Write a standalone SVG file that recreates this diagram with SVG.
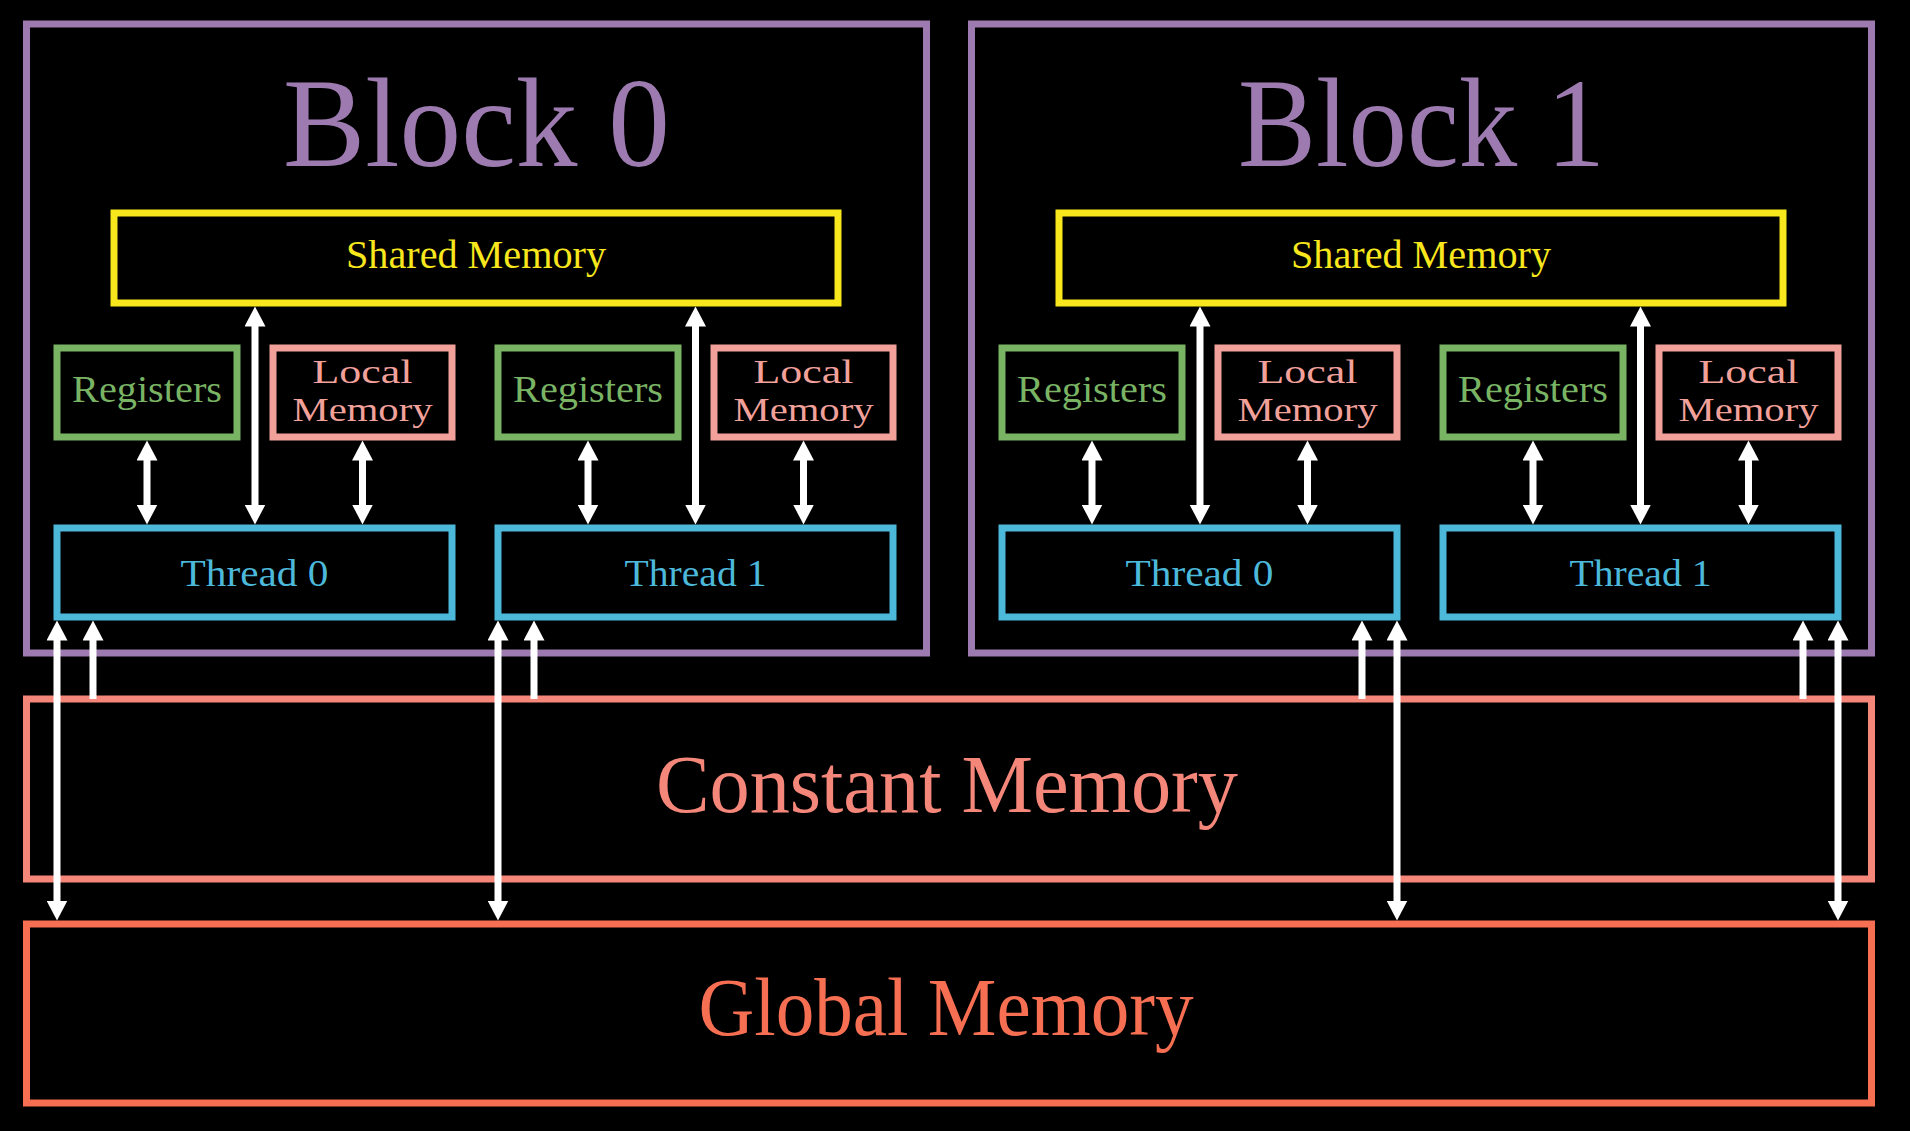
<svg xmlns="http://www.w3.org/2000/svg" width="1910" height="1131" viewBox="0 0 1910 1131">
<style>
  text { font-family: "Liberation Serif", "Times New Roman", serif; text-anchor: middle; }
  .box { fill: none; stroke-width: 7; }
  .block { stroke: #9d7bb0; }
  .shared { stroke: #f8e71c; }
  .reg { stroke: #79b465; }
  .local { stroke: #f2a19a; }
  .thread { stroke: #4cb9db; }
  .const { stroke: #f4877a; }
  .global { stroke: #f76f52; }
  .t-block { fill: #9d7bb0; font-size: 126px; }
  .t-shared { fill: #f8e71c; font-size: 40px; }
  .t-reg { fill: #79b465; font-size: 37px; }
  .t-local { fill: #f2a19a; font-size: 34px; }
  .t-thread { fill: #4cb9db; font-size: 38px; }
  .t-const { fill: #f4877a; font-size: 82px; }
  .t-global { fill: #f76f52; font-size: 82px; }
  .arrow { fill: none; stroke: #ffffff; stroke-width: 7; }
  .both { marker-start: url(#head); marker-end: url(#head); }
  .up { marker-start: url(#head); }
</style>
<defs>
  <marker id="head" markerUnits="userSpaceOnUse" markerWidth="21" markerHeight="21" refX="8" refY="10.5" orient="auto-start-reverse">
    <path d="M0,0 L20,10.5 L0,21 Z" fill="#ffffff"/>
  </marker>
</defs>
<rect width="1910" height="1131" fill="#000000"/>

<g id="block0">
  <rect class="box block" x="26.5" y="24" width="900" height="629"/>
  <text class="t-block" x="476.5" y="166" textLength="387" lengthAdjust="spacingAndGlyphs">Block 0</text>
</g>
<g id="block1">
  <rect class="box block" x="971.5" y="24" width="900" height="629"/>
  <text class="t-block" x="1421.5" y="166" textLength="367" lengthAdjust="spacingAndGlyphs">Block 1</text>
</g>

<g id="shared0">
  <rect class="box shared" x="114" y="213" width="724" height="90"/>
  <text class="t-shared" x="476" y="268" textLength="260" lengthAdjust="spacingAndGlyphs">Shared Memory</text>
</g>
<g id="shared1">
  <rect class="box shared" x="1059" y="213" width="724" height="90"/>
  <text class="t-shared" x="1421" y="268" textLength="260" lengthAdjust="spacingAndGlyphs">Shared Memory</text>
</g>

<g id="reg-b0-t0">
  <rect class="box reg" x="57" y="348" width="180" height="89"/>
  <text class="t-reg" x="147" y="402" textLength="150" lengthAdjust="spacingAndGlyphs">Registers</text>
</g>
<g id="local-b0-t0">
  <rect class="box local" x="273" y="348" width="179" height="89"/>
  <text class="t-local" x="362.5" y="383" textLength="100" lengthAdjust="spacingAndGlyphs">Local</text>
  <text class="t-local" x="362.5" y="421" textLength="140" lengthAdjust="spacingAndGlyphs">Memory</text>
</g>
<g id="reg-b0-t1">
  <rect class="box reg" x="498" y="348" width="180" height="89"/>
  <text class="t-reg" x="588" y="402" textLength="150" lengthAdjust="spacingAndGlyphs">Registers</text>
</g>
<g id="local-b0-t1">
  <rect class="box local" x="714" y="348" width="179" height="89"/>
  <text class="t-local" x="803.5" y="383" textLength="100" lengthAdjust="spacingAndGlyphs">Local</text>
  <text class="t-local" x="803.5" y="421" textLength="140" lengthAdjust="spacingAndGlyphs">Memory</text>
</g>
<g id="reg-b1-t0">
  <rect class="box reg" x="1002" y="348" width="180" height="89"/>
  <text class="t-reg" x="1092" y="402" textLength="150" lengthAdjust="spacingAndGlyphs">Registers</text>
</g>
<g id="local-b1-t0">
  <rect class="box local" x="1218" y="348" width="179" height="89"/>
  <text class="t-local" x="1307.5" y="383" textLength="100" lengthAdjust="spacingAndGlyphs">Local</text>
  <text class="t-local" x="1307.5" y="421" textLength="140" lengthAdjust="spacingAndGlyphs">Memory</text>
</g>
<g id="reg-b1-t1">
  <rect class="box reg" x="1443" y="348" width="180" height="89"/>
  <text class="t-reg" x="1533" y="402" textLength="150" lengthAdjust="spacingAndGlyphs">Registers</text>
</g>
<g id="local-b1-t1">
  <rect class="box local" x="1659" y="348" width="179" height="89"/>
  <text class="t-local" x="1748.5" y="383" textLength="100" lengthAdjust="spacingAndGlyphs">Local</text>
  <text class="t-local" x="1748.5" y="421" textLength="140" lengthAdjust="spacingAndGlyphs">Memory</text>
</g>

<g id="thread-b0-t0">
  <rect class="box thread" x="57" y="528" width="395" height="89"/>
  <text class="t-thread" x="254.5" y="586" textLength="148" lengthAdjust="spacingAndGlyphs">Thread 0</text>
</g>
<g id="thread-b0-t1">
  <rect class="box thread" x="498" y="528" width="395" height="89"/>
  <text class="t-thread" x="695.5" y="586" textLength="142" lengthAdjust="spacingAndGlyphs">Thread 1</text>
</g>
<g id="thread-b1-t0">
  <rect class="box thread" x="1002" y="528" width="395" height="89"/>
  <text class="t-thread" x="1199.5" y="586" textLength="148" lengthAdjust="spacingAndGlyphs">Thread 0</text>
</g>
<g id="thread-b1-t1">
  <rect class="box thread" x="1443" y="528" width="395" height="89"/>
  <text class="t-thread" x="1640.5" y="586" textLength="142" lengthAdjust="spacingAndGlyphs">Thread 1</text>
</g>

<g id="constant">
  <rect class="box const" x="26.5" y="699" width="1845" height="180"/>
  <text class="t-const" x="947" y="812" textLength="582" lengthAdjust="spacingAndGlyphs">Constant Memory</text>
</g>
<g id="global">
  <rect class="box global" x="26.5" y="924" width="1845" height="179"/>
  <text class="t-global" x="946" y="1035" textLength="495" lengthAdjust="spacingAndGlyphs">Global Memory</text>
</g>

<g id="connectors">
  <!-- block 0 -->
  <path class="arrow both" d="M147,452.5 L147,512.5"/>
  <path class="arrow both" d="M255,318.5 L255,512.5"/>
  <path class="arrow both" d="M362.5,452.5 L362.5,512.5"/>
  <path class="arrow both" d="M588,452.5 L588,512.5"/>
  <path class="arrow both" d="M695.5,318.5 L695.5,512.5"/>
  <path class="arrow both" d="M803.5,452.5 L803.5,512.5"/>
  <!-- block 1 -->
  <path class="arrow both" d="M1092,452.5 L1092,512.5"/>
  <path class="arrow both" d="M1200,318.5 L1200,512.5"/>
  <path class="arrow both" d="M1307.5,452.5 L1307.5,512.5"/>
  <path class="arrow both" d="M1533,452.5 L1533,512.5"/>
  <path class="arrow both" d="M1640.5,318.5 L1640.5,512.5"/>
  <path class="arrow both" d="M1748.5,452.5 L1748.5,512.5"/>
  <!-- threads to global memory -->
  <path class="arrow both" d="M57,632.5 L57,908.5"/>
  <path class="arrow both" d="M498,632.5 L498,908.5"/>
  <path class="arrow both" d="M1397,632.5 L1397,908.5"/>
  <path class="arrow both" d="M1838,632.5 L1838,908.5"/>
  <!-- constant memory to threads -->
  <path class="arrow up" d="M93,632.5 L93,699"/>
  <path class="arrow up" d="M534,632.5 L534,699"/>
  <path class="arrow up" d="M1362,632.5 L1362,699"/>
  <path class="arrow up" d="M1803,632.5 L1803,699"/>
</g>
</svg>
